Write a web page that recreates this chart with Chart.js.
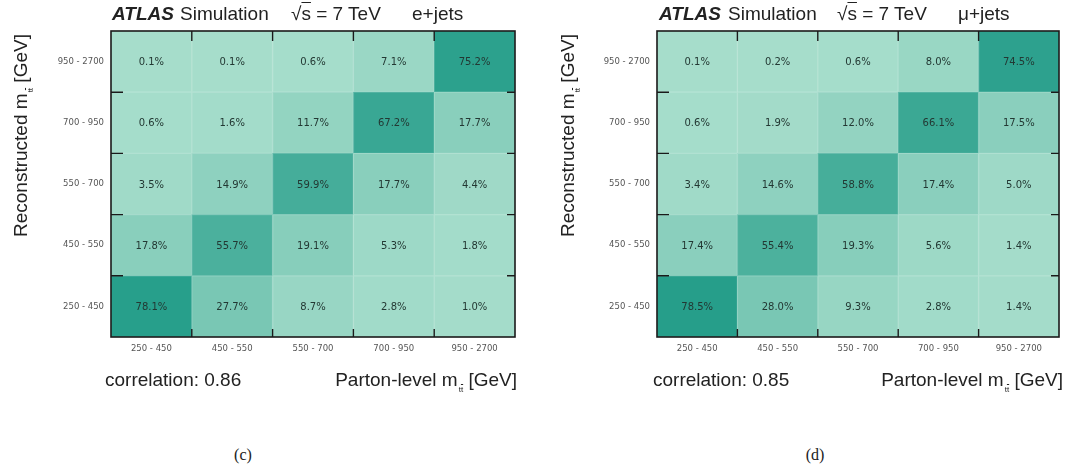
<!DOCTYPE html>
<html>
<head>
<meta charset="utf-8">
<script src="https://cdn.jsdelivr.net/npm/chart.js@4/dist/chart.umd.min.js"></script>
<style>
  html, body { margin: 0; padding: 0; background: #fff; }
  body { width: 1078px; height: 473px; position: relative; overflow: hidden;
         font-family: "Liberation Sans", Arial, sans-serif; color: #222; }
  canvas { position: absolute; top: 0; }
  .t { position: absolute; white-space: nowrap; font-size: 19px; line-height: normal; }
  .sub { font-size: 8px; position: relative; top: 6px; margin-left: 1px; }
  .ol { text-decoration: overline; }
  .ytitle { position: absolute; left: 0; top: 0; white-space: nowrap; font-size: 19px;
            line-height: 19px; transform-origin: 0 0; }
  .cap { position: absolute; font-family: "Liberation Serif", serif; font-size: 16px;
         line-height: normal; transform: translateX(-50%); }
</style>
</head>
<body>
<canvas id="chartE" width="540" height="400" style="left:0px;width:540px;height:400px"></canvas>
<canvas id="chartMu" width="532" height="400" style="left:546px;width:532px;height:400px"></canvas>

<!-- e+jets panel texts -->
<div class="t" style="left:112px;top:3px"><b><i>ATLAS</i></b></div>
<div class="t" style="left:180px;top:3px">Simulation</div>
<div class="t" style="left:291px;top:3px">√<span class="ol">s</span> = 7 TeV</div>
<div class="t" style="left:412px;top:3px">e+jets</div>
<div class="ytitle" style="transform:translate(11px,237px) rotate(-90deg)">Reconstructed m<span class="sub">t<span class="ol">t</span></span> [GeV]</div>
<div class="t" style="left:105px;top:369px">correlation: 0.86</div>
<div class="t" style="right:561px;top:369px">Parton-level m<span class="sub">t<span class="ol">t</span></span> [GeV]</div>
<div class="cap" style="left:243px;top:446px">(c)</div>

<!-- mu+jets panel texts -->
<div class="t" style="left:659px;top:3px"><b><i>ATLAS</i></b></div>
<div class="t" style="left:728px;top:3px">Simulation</div>
<div class="t" style="left:837px;top:3px">√<span class="ol">s</span> = 7 TeV</div>
<div class="t" style="left:958px;top:3px">μ+jets</div>
<div class="ytitle" style="transform:translate(558px,237px) rotate(-90deg)">Reconstructed m<span class="sub">t<span class="ol">t</span></span> [GeV]</div>
<div class="t" style="left:653px;top:369px">correlation: 0.85</div>
<div class="t" style="right:15px;top:369px">Parton-level m<span class="sub">t<span class="ol">t</span></span> [GeV]</div>
<div class="cap" style="left:815px;top:446px">(d)</div>

<script>
// Mass bins in GeV (parton level along x, reconstructed along y, bottom to top)
const partonBins = ['250 - 450', '450 - 550', '550 - 700', '700 - 950', '950 - 2700'];
const recoBins   = ['250 - 450', '450 - 550', '550 - 700', '700 - 950', '950 - 2700'];

// Migration fractions in %, one array per reconstructed bin, columns = parton bins
const eJetsReco250  = [78.1, 27.7,  8.7,  2.8,  1.0];
const eJetsReco450  = [17.8, 55.7, 19.1,  5.3,  1.8];
const eJetsReco550  = [ 3.5, 14.9, 59.9, 17.7,  4.4];
const eJetsReco700  = [ 0.6,  1.6, 11.7, 67.2, 17.7];
const eJetsReco950  = [ 0.1,  0.1,  0.6,  7.1, 75.2];

const muJetsReco250 = [78.5, 28.0,  9.3,  2.8,  1.4];
const muJetsReco450 = [17.4, 55.4, 19.3,  5.6,  1.4];
const muJetsReco550 = [ 3.4, 14.6, 58.8, 17.4,  5.0];
const muJetsReco700 = [ 0.6,  1.9, 12.0, 66.1, 17.5];
const muJetsReco950 = [ 0.1,  0.2,  0.6,  8.0, 74.5];

Chart.defaults.font.family = '"Liberation Sans", Arial, sans-serif';

// Teal palette: light for small fractions, dark for large ones
function cellRGB(v) {
  const t = Math.min(v / 80, 1);
  const lo = [166, 221, 203], hi = [36, 157, 137];
  return lo.map((a, i) => a + (hi[i] - a) * t);
}
function cellColor(v) {
  const c = cellRGB(v).map(Math.round);
  return `rgb(${c[0]},${c[1]},${c[2]})`;
}
// Slightly paler edge so neighbouring cells are faintly separated
function cellEdge(v) {
  const c = cellRGB(v).map(a => Math.round(a + (255 - a) * 0.18));
  return `rgb(${c[0]},${c[1]},${c[2]})`;
}

// Writes the percentage in the middle of every cell
const cellLabels = {
  id: 'cellLabels',
  afterDatasetsDraw(chart) {
    const ctx = chart.ctx;
    ctx.save();
    ctx.font = '10px "DejaVu Sans", sans-serif';
    ctx.fillStyle = '#233833';
    ctx.textAlign = 'center';
    ctx.textBaseline = 'middle';
    chart.data.datasets.forEach((ds, di) => {
      chart.getDatasetMeta(di).data.forEach((bar, i) => {
        ctx.fillText(ds.fractions[i].toFixed(1) + '%', bar.x, (bar.y + bar.base) / 2 + 1);
      });
    });
    ctx.restore();
  }
};

// Black frame with inward tick marks at the bin edges
const frame = {
  id: 'frame',
  afterDraw(chart) {
    const { ctx, chartArea: a } = chart;
    const xs = chart.scales.x, ys = chart.scales.y;
    ctx.save();
    ctx.strokeStyle = '#1a1a1a';
    ctx.lineWidth = 1.6;
    ctx.strokeRect(a.left, a.top, a.right - a.left, a.bottom - a.top);
    ctx.lineWidth = 1.4;
    ctx.beginPath();
    for (let k = 1; k < partonBins.length; k++) {
      const px = xs.getPixelForValue(k - 0.5);
      ctx.moveTo(px, a.bottom); ctx.lineTo(px, a.bottom - 8);
      ctx.moveTo(px, a.top);    ctx.lineTo(px, a.top + 10);
    }
    for (let k = 1; k < recoBins.length; k++) {
      const py = ys.getPixelForValue(k);
      ctx.moveTo(a.left, py);  ctx.lineTo(a.left + 12, py);
      ctx.moveTo(a.right, py); ctx.lineTo(a.right - 8, py);
    }
    ctx.stroke();
    ctx.restore();
  }
};

function buildMatrix(canvasId, rows, rightPad) {
  const datasets = rows.map((vals, r) => ({
    data: vals.map(() => [r, r + 1]),
    fractions: vals,
    backgroundColor: vals.map(cellColor),
    borderColor: vals.map(cellEdge),
    borderWidth: 1,
    borderSkipped: false,
    grouped: false,
    categoryPercentage: 1,
    barPercentage: 1
  }));
  const tickFont = { family: '"DejaVu Sans", sans-serif', size: 8.5 };
  return new Chart(document.getElementById(canvasId), {
    type: 'bar',
    data: { labels: partonBins, datasets },
    options: {
      responsive: false,
      animation: false,
      layout: { padding: { top: 31, right: rightPad, left: 0, bottom: 0 } },
      plugins: { legend: { display: false }, tooltip: { enabled: false } },
      scales: {
        x: {
          type: 'category', offset: true,
          grid: { display: false, drawTicks: false }, border: { display: false },
          ticks: { font: tickFont, color: '#555', padding: 7, maxRotation: 0, autoSkip: false },
          afterFit(s) { s.height = 63; }
        },
        y: { type: 'linear', min: 0, max: recoBins.length, display: false },
        yReco: {
          type: 'category', position: 'left', offset: true,
          labels: recoBins.slice().reverse(),
          grid: { display: false, drawTicks: false }, border: { display: false },
          ticks: { font: tickFont, color: '#555', padding: 7, autoSkip: false },
          afterFit(s) { s.width = 111; }
        }
      }
    },
    plugins: [cellLabels, frame]
  });
}

buildMatrix('chartE',  [eJetsReco250, eJetsReco450, eJetsReco550, eJetsReco700, eJetsReco950], 25);
buildMatrix('chartMu', [muJetsReco250, muJetsReco450, muJetsReco550, muJetsReco700, muJetsReco950], 19);
</script>
</body>
</html>
